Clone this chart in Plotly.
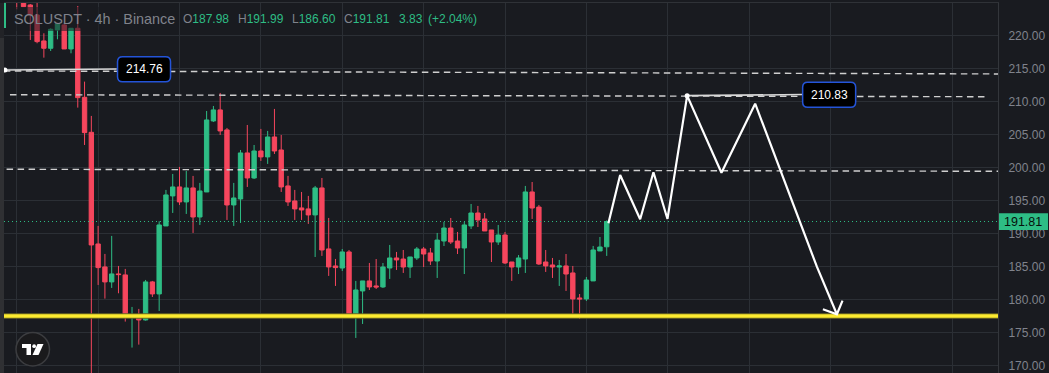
import plotly.graph_objects as go

# Candle data (index, open, high, low, close)
candle_idx = list(range(-11, 77))
opens = [225.6,224.98,224.62,223.11,219.17,218.06,220.84,221.59,217.96,221.09,210.63,205.33,
 188.41,184.93,182.66,183.87,183.72,177.56,177.66,176.9,182.66,180.84,191.14,195.69,197.05,194.78,196.9,192.5,
 196.29,207.05,208.72,205.69,194.32,195.23,202.2,198.41,202.5,201.6,204.62,202.65,197.2,194.93,193.87,193.72,
 192.81,196.9,187.66,185.08,184.77,187.2,177.65,181.29,182.81,182.05,181.9,184.77,186.29,186.13,184.92,186.29,
 187.65,187.05,185.83,188.86,190.83,188.86,187.8,191.14,193.1,192.2,190.53,188.71,189.77,185.68,184.92,186.13,
 196.29,194.0,185.68,185.23,184.92,185.08,184.02,180.23,180.08,182.81,187.35,187.98]
highs = [226.0,225.6,224.77,224.98,220.33,221.09,221.85,221.85,221.09,224.47,213.01,207.81,
 191.14,186.9,189.63,185.08,184.63,178.87,178.57,182.96,182.81,191.85,196.6,199.02,200.08,199.47,198.72,197.66,
 208.56,209.32,211.29,205.99,197.66,202.65,206.44,203.41,205.84,205.54,208.87,204.93,198.72,196.6,196.29,195.69,
 197.2,198.41,192.35,186.14,187.65,187.5,182.81,182.81,185.53,186.13,185.53,188.26,187.2,187.5,186.44,187.95,
 187.95,187.8,190.08,191.74,192.35,190.23,191.74,194.47,194.17,193.1,190.53,191.29,190.23,185.68,186.74,197.2,
 197.8,194.32,187.5,186.29,185.99,186.89,185.08,180.83,183.41,188.11,189.47,191.99]
lows = [223.97,224.37,219.32,218.82,216.64,217.65,219.42,217.96,217.3,209.07,203.41,165.0,
 182.2,180.13,181.75,180.94,176.65,172.71,173.16,176.8,180.38,178.26,191.14,193.11,194.32,192.96,190.08,191.29,
 196.29,206.9,204.93,192.05,191.14,191.6,197.05,198.26,200.99,200.54,202.05,196.29,194.17,192.05,192.05,191.45,
 186.44,186.6,183.57,182.05,184.32,177.35,174.17,176.29,181.44,181.59,181.74,183.11,184.47,184.02,183.26,185.99,
 184.92,185.23,183.26,188.1,188.41,186.89,183.86,190.68,190.98,190.38,185.68,188.26,185.38,182.81,183.86,184.02,
 192.2,185.23,184.17,183.26,182.05,181.29,177.2,177.05,179.77,182.81,187.35,186.6]
closes = [225.3,224.37,223.11,219.07,218.06,220.94,221.75,217.96,221.09,210.58,205.28,188.26,
 184.83,182.66,183.87,183.77,177.56,177.66,176.9,182.66,180.84,191.29,195.84,197.05,194.78,196.9,192.5,196.44,
 207.2,208.72,205.54,194.32,195.38,202.2,198.41,202.5,201.6,204.62,202.5,197.05,194.78,193.72,193.56,192.81,
 196.9,187.5,184.93,184.83,187.2,177.65,181.44,182.81,181.9,181.9,184.92,186.29,185.99,184.92,186.44,187.65,
 186.89,185.83,189.0,190.83,188.71,187.8,191.29,193.1,192.05,190.38,188.71,189.77,185.53,184.92,186.29,196.29,
 193.86,185.38,185.08,184.92,185.08,183.86,180.08,180.08,182.95,187.5,187.95,191.81]

# Projected white path
path_x = [76.25,77.98,80.93,82.89,84.96,87.86,92.92,97.89,106.99,109.94]
path_y = [191.55,198.86,192.15,199.27,192.2,210.88,199.21,209.67,184.97,177.76]
arrow_x = [107.88,109.94,110.77]
arrow_y = [178.52,177.76,179.82]

# Horizontal levels (start index, end index, start price, end price)
dash_levels = [(-12.9,133.7,214.62,214.17),(-12.0,132.0,211.02,210.72),(-12.5,133.7,199.73,199.42)]
support_level = 177.5
last_price = 191.81
grid_idx = [-11,1,13,25,37,49,61,73,85,97,109,127]
price_ticks = [170,175,180,185,190,195,200,205,210,215,220]

# Layout numbers
W, H = 1049, 373
ML, MR, MT, MB = 4, 51, 3, 0
XR = [-12.88, 133.7]
YR = [168.86, 224.92]
BG = "#191b20"; GRID = "#2b2f35"; UP = "#2ebd85"; DOWN = "#f6465d"
AXT = "#80838c"; FONT = "Liberation Sans"

def px(x): return (x-ML)/(W-ML-MR)
def py(y): return 1-(y-MT)/(H-MT-MB)

fig = go.Figure()
for x0,x1,y0,y1 in dash_levels:
    fig.add_trace(go.Scatter(x=[x0,x1],y=[y0,y1],mode="lines",line=dict(color="#cfcfcf",width=1.4,dash="6.5px,4.5px"),hoverinfo="skip"))
fig.add_trace(go.Scatter(x=XR,y=[support_level]*2,mode="lines",line=dict(color="#6e6a22",width=5.5),hoverinfo="skip"))
fig.add_trace(go.Scatter(x=XR,y=[support_level]*2,mode="lines",line=dict(color="#fdeb30",width=3.5),hoverinfo="skip"))
fig.add_trace(go.Scatter(x=XR,y=[last_price]*2,mode="lines",line=dict(color=UP,width=1,dash="1px,3px"),hoverinfo="skip"))
fig.add_trace(go.Candlestick(x=candle_idx,open=opens,high=highs,low=lows,close=closes,
    increasing=dict(line=dict(color=UP,width=1),fillcolor=UP),
    decreasing=dict(line=dict(color=DOWN,width=1),fillcolor=DOWN),whiskerwidth=0))
fig.add_trace(go.Scatter(x=[-12.7,3.75],y=[214.76,214.92],mode="lines",line=dict(color="#d8d8d8",width=1.6),hoverinfo="skip"))
fig.add_trace(go.Scatter(x=[87.86,104.9],y=[210.88,211.05],mode="lines",line=dict(color="#d8d8d8",width=1.6),hoverinfo="skip"))
fig.add_trace(go.Scatter(x=path_x,y=path_y,mode="lines",line=dict(color="#ffffff",width=2.2),hoverinfo="skip"))
fig.add_trace(go.Scatter(x=arrow_x,y=arrow_y,mode="lines",line=dict(color="#ffffff",width=2.2),hoverinfo="skip"))
fig.add_trace(go.Scatter(x=[87.86,-12.75],y=[210.88,214.76],mode="markers",marker=dict(color="#ffffff",size=5),hoverinfo="skip"))

def rrect(w,h,r):
    a,b=w/2,h/2
    return (f"M {-a+r} {-b} L {a-r} {-b} Q {a} {-b} {a} {-b+r} L {a} {b-r} Q {a} {b} {a-r} {b} "
            f"L {-a+r} {b} Q {-a} {b} {-a} {b-r} L {-a} {-b+r} Q {-a} {-b} {-a+r} {-b} Z")

def poly(points):
    return "M " + " L ".join(f"{px(x):.5f} {py(y):.5f}" for x,y in points) + " Z"

shapes = [
    dict(type="rect",xref="paper",yref="paper",x0=px(0),x1=0,y0=0,y1=py(38),fillcolor="#2f3033",line_width=0),
    dict(type="rect",xref="paper",yref="paper",x0=px(0),x1=0,y0=py(38),y1=1,fillcolor="#222327",line_width=0),
    dict(type="rect",xref="paper",yref="paper",x0=px(9),x1=px(178),y0=py(31),y1=py(7),fillcolor="rgba(25,27,32,0.55)",line_width=0),
    dict(type="rect",xref="paper",yref="paper",x0=px(4),x1=px(6),y0=py(28),y1=py(3),fillcolor=UP,line_width=0),
    dict(type="rect",xref="paper",yref="paper",x0=px(999),x1=px(1048),y0=py(230),y1=py(213.3),fillcolor=UP,line_width=0),
    dict(type="path",xsizemode="pixel",ysizemode="pixel",xanchor=7.77,yanchor=214.9,path=rrect(53,25,5),fillcolor="#000000",line=dict(color="#2454d8",width=1.5)),
    dict(type="path",xsizemode="pixel",ysizemode="pixel",xanchor=108.8,yanchor=211.0,path=rrect(53,25,5),fillcolor="#000000",line=dict(color="#2454d8",width=1.5)),
    dict(type="circle",xref="paper",yref="paper",x0=px(16),x1=px(49.5),y0=py(366),y1=py(332.5),fillcolor="#1a1a1c",line=dict(color="#3c3d40",width=1.5)),
    # TradingView mark
    dict(type="path",xref="paper",yref="paper",path=poly([(22,344),(31,344),(31,355),(26.5,355),(26.5,348),(22,348)]),fillcolor="#ffffff",line_width=0),
    dict(type="path",xref="paper",yref="paper",path=poly([(37.5,344),(43.5,344),(38.5,355),(32.5,355)]),fillcolor="#ffffff",line_width=0),
    dict(type="circle",xref="paper",yref="paper",x0=px(32.3),x1=px(36),y0=py(348),y1=py(344.3),fillcolor="#ffffff",line_width=0),
]

def note(x,y,text,size=12,color=AXT,anchor="left"):
    return dict(xref="paper",yref="paper",x=px(x),y=py(y),text=text,showarrow=False,xanchor=anchor,yanchor="middle",
                font=dict(family=FONT,size=size,color=color),borderpad=0)

def c(s,col): return f'<span style="color:{col}">{s}</span>'
anns = [
    note(12.5,19.5,"SOLUSDT · 4h · Binance",14.4),
    note(182,19.5,"O"+c("187.98",UP),12),
    note(236.5,19.5,"H"+c("191.99",UP),12),
    note(291,19.5,"L"+c("186.60",UP),12),
    note(343,19.5,"C"+c("191.81",UP),12),
    note(398,19.5,c("3.83",UP),12),
    note(427,19.5,c("(+2.04%)",UP),12),
    note(144,69,"214.76",12,"#ffffff","center"),
    note(829,95,"210.83",12,"#ffffff","center"),
    note(1023.5,222,"191.81",12.5,"#07100c","center"),
]

fig.update_layout(
    width=W,height=H,margin=dict(l=ML,r=MR,t=MT,b=MB),paper_bgcolor=BG,plot_bgcolor=BG,showlegend=False,
    boxgap=0.08,shapes=shapes,annotations=anns,hovermode=False,
    xaxis=dict(range=XR,tickvals=grid_idx,showticklabels=False,showgrid=True,gridcolor=GRID,gridwidth=1,zeroline=False,
               rangeslider=dict(visible=False),side="top",showline=True,linecolor="#2f3237",linewidth=1,ticks=""),
    yaxis=dict(range=YR,side="right",tickvals=price_ticks,tickformat=".2f",showgrid=True,gridcolor=GRID,gridwidth=1,zeroline=False,
               showline=True,linecolor="#33363b",linewidth=1,ticks="outside",ticklen=7,tickcolor=BG,
               tickfont=dict(family=FONT,size=12,color=AXT)),
)
fig.write_html("out.html",config=dict(displayModeBar=False),post_script="document.body.style.margin='0';document.body.style.background='#191b20';")
